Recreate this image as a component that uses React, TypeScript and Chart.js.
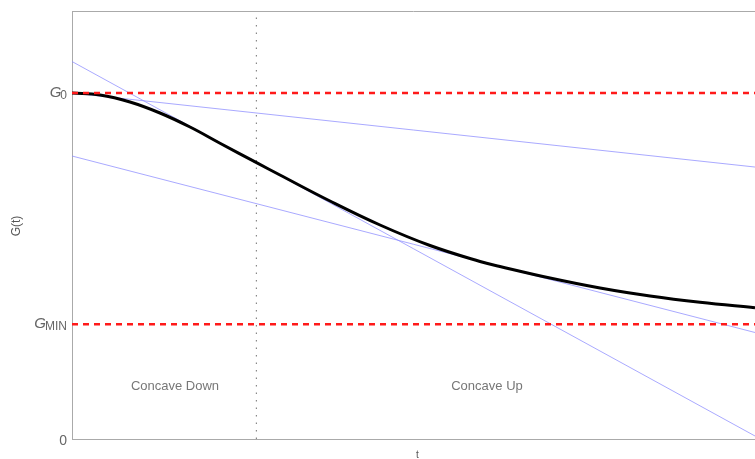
import React, { useEffect, useRef } from "react";
import { Chart, registerables } from "chart.js";

Chart.register(...registerables);

// ---- Data ----
const curveT = [0, 0.41, 0.849, 1.288, 1.728, 2.167, 2.709, 3.045, 3.777, 4.51, 5.242, 5.974, 6.266, 6.999, 7.731, 8.463, 9.195, 10];
const curveG = [1.0, 0.9942, 0.974, 0.9422, 0.9017, 0.8549, 0.798, 0.763, 0.6879, 0.6185, 0.5592, 0.513, 0.4986, 0.4653, 0.4364, 0.4133, 0.3951, 0.3792];

const lineT = [0, 10];
const tangentInflection = [1.091, 0.0087];
const tangentEarly = [1.0, 0.786];
const tangentLate = [0.8179, 0.3078];

const G0 = 1.0;
const GMIN = 0.332;
const Y_MAX = 1.237;
const T_MIN = 0;
const T_MAX = 10;
const inflectionT = 2.7;

const yTickValues = [0, GMIN, G0];
const yTickMain = ["0", "G", "G"];
const yTickSub = ["", "MIN", "0"];

const regionLabels = ["Concave Down", "Concave Up"];
const regionLabelT = [1.508, 6.076];
const regionLabelG = 0.1416;

const yTitle = "G(t)";
const xTitle = "t";

const FONT = '"Liberation Sans", Arial, sans-serif';

const pts = (xs: number[], ys: number[]) => xs.map((x, i) => ({ x, y: ys[i] }));

const textPlugin = {
  id: "customTexts",
  afterDraw(chart: any) {
    const { ctx, chartArea, scales } = chart;
    const x = scales.x;
    const y = scales.y;
    ctx.save();
    // top frame line
    ctx.strokeStyle = "#aaaaaa";
    ctx.lineWidth = 1;
    ctx.beginPath();
    ctx.moveTo(chartArea.left, Math.round(chartArea.top) + 0.5);
    ctx.lineTo(chartArea.right, Math.round(chartArea.top) + 0.5);
    ctx.stroke();

    // y tick labels
    const rightX = chartArea.left - 5;
    ctx.fillStyle = "#666666";
    ctx.textBaseline = "alphabetic";
    yTickValues.forEach((v, i) => {
      const py = y.getPixelForValue(v);
      const main = yTickMain[i];
      const sub = yTickSub[i];
      if (!sub) {
        ctx.font = `14px ${FONT}`;
        ctx.textAlign = "right";
        ctx.fillText(main, rightX, py + 5.5);
      } else {
        ctx.font = `12px ${FONT}`;
        const sw = ctx.measureText(sub).width;
        ctx.textAlign = "left";
        ctx.fillText(sub, rightX - sw, py + 6);
        ctx.font = `italic 15px ${FONT}`;
        ctx.textAlign = "right";
        ctx.fillText(main, rightX - sw + 1, py + 3.5);
      }
    });

    // axis titles
    ctx.font = `12px ${FONT}`;
    ctx.fillStyle = "#555555";
    ctx.save();
    ctx.translate(17, (chartArea.top + chartArea.bottom) / 2 + 1);
    ctx.rotate(-Math.PI / 2);
    ctx.textAlign = "center";
    ctx.textBaseline = "middle";
    ctx.fillText(yTitle, 0, 0);
    ctx.restore();

    ctx.font = `10px ${FONT}`;
    ctx.textAlign = "center";
    ctx.textBaseline = "alphabetic";
    ctx.fillText(xTitle, (chartArea.left + chartArea.right) / 2 + 4, 458);

    // region labels
    ctx.font = `13px ${FONT}`;
    ctx.fillStyle = "#777777";
    ctx.textAlign = "center";
    regionLabels.forEach((lab, i) => {
      ctx.fillText(lab, x.getPixelForValue(regionLabelT[i]), y.getPixelForValue(regionLabelG));
    });
    ctx.restore();
  },
};

export default function App() {
  const canvasRef = useRef<HTMLCanvasElement | null>(null);

  useEffect(() => {
    if (!canvasRef.current) return;
    const blue = "rgba(140,140,255,0.75)";
    const chart = new Chart(canvasRef.current, {
      type: "line",
      data: {
        datasets: [
          {
            data: pts([T_MIN, T_MAX], [G0, G0]),
            borderColor: "#ff1a1a",
            borderWidth: 2.5,
            borderDash: [6, 5],
            pointRadius: 0,
            order: 0,
          },
          {
            data: pts([T_MIN, T_MAX], [GMIN, GMIN]),
            borderColor: "#ff1a1a",
            borderWidth: 2.5,
            borderDash: [6, 5],
            pointRadius: 0,
            order: 0,
          },
          {
            data: pts(curveT, curveG),
            borderColor: "#000000",
            borderWidth: 3,
            pointRadius: 0,
            tension: 0.4,
            order: 1,
          },
          {
            data: pts(lineT, tangentInflection),
            borderColor: blue,
            borderWidth: 1,
            pointRadius: 0,
            order: 2,
          },
          {
            data: pts(lineT, tangentEarly),
            borderColor: blue,
            borderWidth: 1,
            pointRadius: 0,
            order: 2,
          },
          {
            data: pts(lineT, tangentLate),
            borderColor: blue,
            borderWidth: 1,
            pointRadius: 0,
            order: 2,
          },
          {
            data: pts([inflectionT, inflectionT], [0, Y_MAX]),
            borderColor: "#888888",
            borderWidth: 1.2,
            borderDash: [1.5, 6],
            pointRadius: 0,
            order: 3,
          },
        ],
      } as any,
      options: {
        animation: false,
        responsive: false,
        maintainAspectRatio: false,
        layout: { padding: { top: 11, right: 0, left: 0, bottom: 0 } },
        plugins: {
          legend: { display: false },
          tooltip: { enabled: false },
        },
        scales: {
          x: {
            type: "linear",
            min: T_MIN,
            max: T_MAX,
            grid: { display: false },
            border: { display: true, color: "#aaaaaa", width: 1 },
            ticks: { display: false },
            afterFit: (s: any) => {
              s.height = 20;
            },
          },
          y: {
            type: "linear",
            min: 0,
            max: Y_MAX,
            grid: { display: false },
            border: { display: true, color: "#aaaaaa", width: 1 },
            ticks: { display: false },
            afterFit: (s: any) => {
              s.width = 72;
            },
          },
        },
      } as any,
      plugins: [textPlugin],
    });
    return () => chart.destroy();
  }, []);

  return (
    <div style={{ position: "fixed", left: 0, top: 0, width: 755, height: 459, background: "#fff" }}>
      <canvas ref={canvasRef} width={755} height={459} style={{ width: 755, height: 459, display: "block" }} />
    </div>
  );
}
